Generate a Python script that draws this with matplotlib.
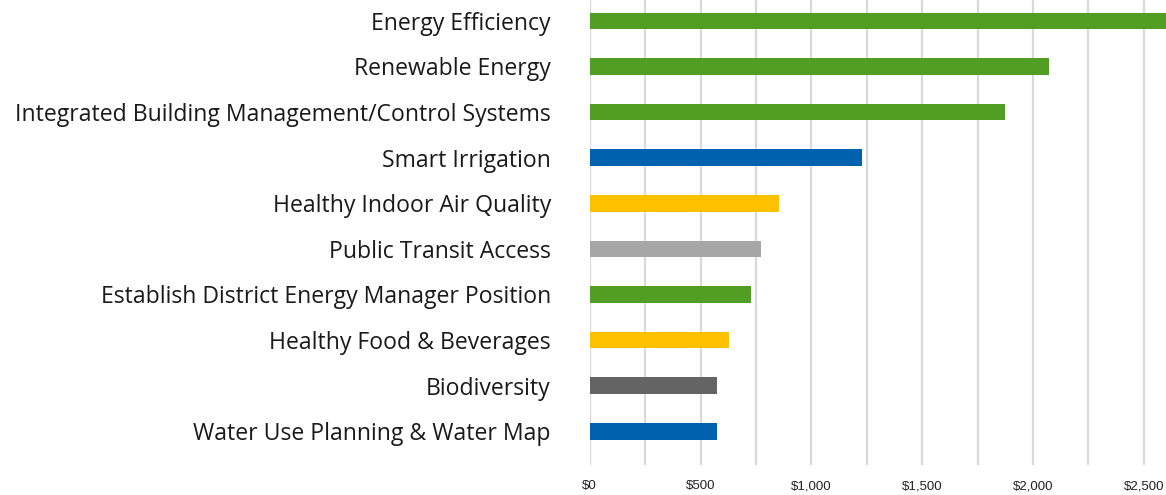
import matplotlib
matplotlib.use("Agg")
import matplotlib.pyplot as plt

categories = [
    "Energy Efficiency",
    "Renewable Energy",
    "Integrated Building Management/Control Systems",
    "Smart Irrigation",
    "Healthy Indoor Air Quality",
    "Public Transit Access",
    "Establish District Energy Manager Position",
    "Healthy Food & Beverages",
    "Biodiversity",
    "Water Use Planning & Water Map",
]
values = [2650, 2072, 1873, 1227, 854, 773, 728, 628, 574, 574]
colors = ["#529E25", "#529E25", "#529E25", "#0061AF", "#FFC000",
          "#A6A6A6", "#529E25", "#FFC000", "#636463", "#0061AF"]
grid_ticks = [0, 250, 500, 750, 1000, 1250, 1500, 1750, 2000, 2250, 2500]
grid_labels = ["$0", "", "$500", "", "$1,000", "", "$1,500", "", "$2,000", "", "$2,500"]

W, H = 1166, 495
fig = plt.figure(figsize=(W / 100, H / 100), dpi=100)
left = 589.7 / W
bottom = (H - 465) / H
ax = fig.add_axes([left, bottom, 1 - left, 1 - bottom])

n = len(categories)
ypos = list(range(n - 1, -1, -1))
ax.barh(ypos, values, height=0.366, color=colors, zorder=3)

ax.set_xlim(0, 2600)
ax.set_ylim(-0.739, 9.458)

ax.set_xticks(grid_ticks)
ax.set_xticklabels(grid_labels, fontfamily="Liberation Sans", fontsize=9.5, color="#222222")
ax.grid(axis="x", color="#D9D9D9", linewidth=1.6, zorder=0)
ax.tick_params(axis="x", length=0, pad=11)

ax.set_yticks(ypos)
ax.set_yticklabels(categories, fontfamily="Open Sans", fontsize=16.6, color="#1a1a1a")
ax.tick_params(axis="y", length=0, pad=28)

for s in ax.spines.values():
    s.set_visible(False)

fig.savefig("out.png", dpi=100, facecolor="white")
